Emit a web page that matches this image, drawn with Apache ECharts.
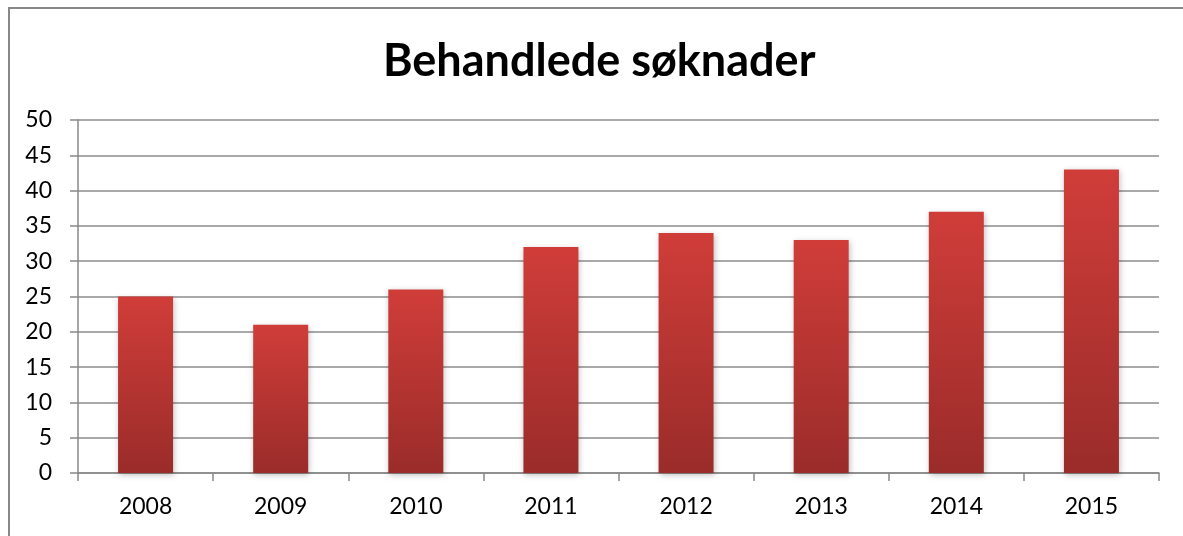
<!DOCTYPE html>
<html>
<head>
<meta charset="utf-8">
<script src="https://cdn.jsdelivr.net/npm/echarts@6/dist/echarts.min.js"></script>
<style>html,body{margin:0;padding:0;background:#fff;}#c{width:1183px;height:536px;}</style>
</head>
<body>
<div id="c"></div>
<script>
const categories = ['2008','2009','2010','2011','2012','2013','2014','2015'];
const values = [25, 21, 26, 32, 34, 33, 37, 43];
const chartTitle = 'Behandlede søknader';

const chart = echarts.init(document.getElementById('c'), null, {renderer: 'canvas'});
const font = 'Lato, "Open Sans", sans-serif';
chart.setOption({
  animation: false,
  backgroundColor: '#fff',
  title: {
    text: chartTitle,
    left: 378,
    top: 34,
    textStyle: {fontFamily: font, fontSize: 45, fontWeight: 'bold', color: '#000'}
  },
  graphic: [{
    type: 'polyline',
    shape: {points: [[9, 536], [9, 8], [1183, 8]]},
    style: {stroke: '#888', lineWidth: 2, fill: null}
  }],
  grid: {left: 78, right: 24, top: 120, bottom: 63},
  xAxis: {
    type: 'category',
    data: categories,
    axisLine: {lineStyle: {color: '#888', width: 1.5}},
    axisTick: {show: true, length: 8, lineStyle: {color: '#888', width: 1.5}},
    axisLabel: {fontFamily: font, fontSize: 23, color: '#000', margin: 22}
  },
  yAxis: {
    type: 'value',
    min: 0, max: 50, interval: 5,
    axisLine: {show: true, lineStyle: {color: '#888', width: 1.5}},
    axisTick: {show: true, length: 8, lineStyle: {color: '#888', width: 1.5}},
    splitLine: {lineStyle: {color: '#8c8c8c', width: 1.5}},
    axisLabel: {fontFamily: font, fontSize: 23, color: '#000', margin: 26}
  },
  series: [{
    type: 'bar',
    data: values,
    barWidth: 55,
    itemStyle: {
      color: new echarts.graphic.LinearGradient(0, 0, 0, 1, [
        {offset: 0, color: '#d03d39'},
        {offset: 1, color: '#9a2c2a'}
      ]),
      shadowColor: 'rgba(0,0,0,0.25)',
      shadowBlur: 6,
      shadowOffsetX: 1,
      shadowOffsetY: 2
    }
  }]
});
</script>
</body>
</html>
